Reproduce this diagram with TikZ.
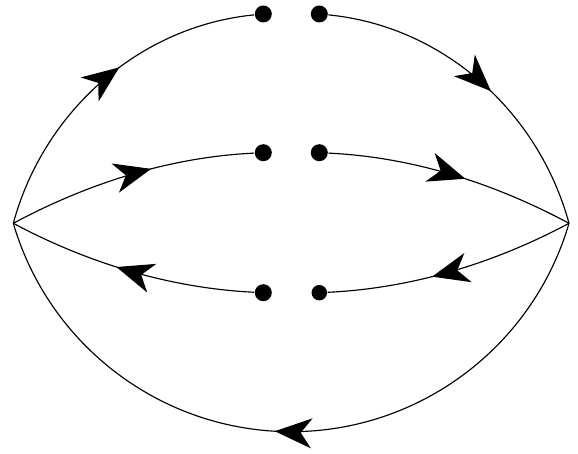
\documentclass[tikz,border=0pt]{standalone}
\usetikzlibrary{arrows.meta,decorations.markings}
\begin{document}
\begin{tikzpicture}[x=1pt,y=1pt,line width=1.15pt,
  dot/.style={circle,fill=black,draw=none,inner sep=0pt,minimum size=17pt},
  smalldot/.style={dot,minimum size=15.5pt},
  midarrow/.style={postaction={decorate},decoration={markings,
    mark=at position #1 with {\arrow{Stealth[length=37pt,width=30pt,inset=11pt]}}}}]
\useasboundingbox (0,0) rectangle (578,454);
\coordinate (L) at (13.3,230.7);
\coordinate (R) at (569,230.7);
\coordinate (B) at (291.3,22.3);
\node[dot] (t1) at (263.3,440) {};
\node[dot] (t2) at (319.3,440) {};
\node[dot] (m1) at (263.3,301.3) {};
\node[dot] (m2) at (319.3,301.3) {};
\node[dot] (b1) at (263.3,161.3) {};
\node[smalldot] (b2) at (319.3,161.3) {};
% outer top
\draw[midarrow=0.567] (L) to[out=74.8,in=185.6,looseness=0.93] (t1);
\draw[midarrow=0.541] (t2) to[out=-5.6,in=105.25,looseness=0.93] (R);
% middle upper
\draw[midarrow=0.587] (L) to[out=28.18,in=182.72,looseness=0.86] (m1);
\draw[midarrow=0.553] (m2) to[out=-2.72,in=151.82,looseness=0.86] (R);
% middle lower
\draw[midarrow=0.556] (b1) to[out=177.28,in=-28.18,looseness=0.86] (L);
\draw[midarrow=0.582] (R) to[out=208.18,in=2.72,looseness=0.86] (b2);
% outer bottom
\draw[midarrow=0.522] (R) to[out=-106.3,in=0,looseness=0.946] (B)
  to[out=180,in=-73.7,looseness=0.946] (L);
\end{tikzpicture}
\end{document}
